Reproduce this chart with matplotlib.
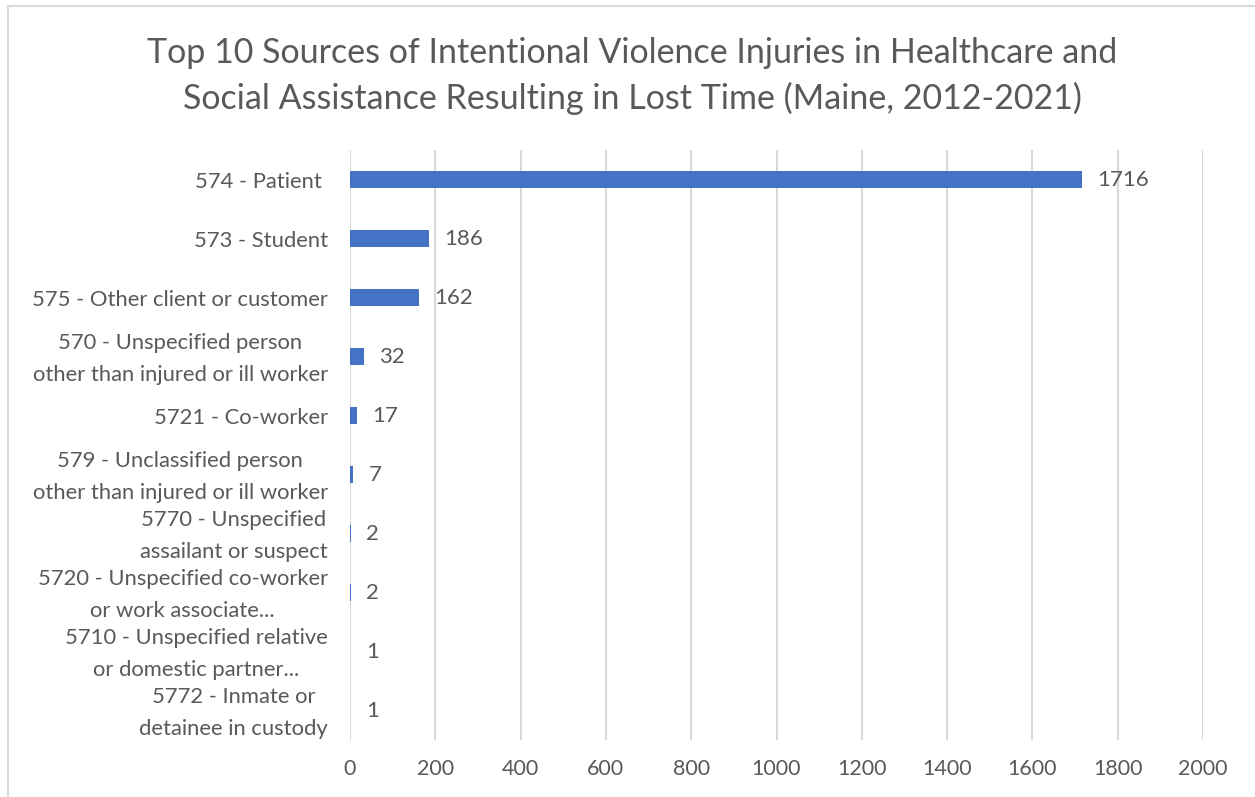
import matplotlib
matplotlib.use('Agg')
import matplotlib.pyplot as plt
from matplotlib.patches import Rectangle
from matplotlib.transforms import ScaledTranslation

plt.rcParams['font.family'] = ['Lato', 'DejaVu Sans']

categories = [
    "574 - Patient ",
    "573 - Student",
    "575 - Other client or customer",
    "570 - Unspecified person\nother than injured or ill worker",
    "5721 - Co-worker",
    "579 - Unclassified person\nother than injured or ill worker",
    "5770 - Unspecified\nassailant or suspect",
    "5720 - Unspecified co-worker\nor work associate...",
    "5710 - Unspecified relative\nor domestic partner...",
    "5772 - Inmate or\ndetainee in custody",
]
values = [1716, 186, 162, 32, 17, 7, 2, 2, 1, 1]
x_ticks = [0, 200, 400, 600, 800, 1000, 1200, 1400, 1600, 1800, 2000]

title = ("Top 10 Sources of Intentional Violence Injuries in Healthcare and\n"
         "Social Assistance Resulting in Lost Time (Maine, 2012-2021)")

text_color = "#595959"
bar_color = "#4472C4"
grid_color = "#D9D9D9"

fig = plt.figure(figsize=(12.55, 7.97), dpi=100)
ax = fig.add_axes([0.2789, 0.0715, 0.6797, 0.740])

# chart border like the Excel chart area
fig.patches.append(Rectangle((8 / 1255, -0.1), 1.2, 1 - 6 / 797 + 0.1,
                             transform=fig.transFigure, fill=False,
                             edgecolor="#D9D9D9", linewidth=1.5))

y = list(range(len(categories)))
ax.barh(y, values, height=0.29, color=bar_color, zorder=3)

for yi, v in zip(y, values):
    ax.annotate(str(v), (v, yi), xytext=(11, 0), textcoords='offset points',
                va='center', ha='left', fontsize=16, color=text_color, zorder=4)

ax.set_xlim(0, 2000)
ax.set_ylim(len(categories) - 0.5, -0.5)
ax.set_xticks(x_ticks)
ax.set_yticks(y)
ax.set_yticklabels(categories, multialignment='center', linespacing=1.78)
ax.tick_params(axis='both', length=0, labelcolor=text_color)
ax.tick_params(axis='y', pad=16, labelsize=15.8)
ax.tick_params(axis='x', pad=14, labelsize=15.5)

# two-line labels sit a little low, nudge them up
for lab in ax.get_yticklabels():
    if "\n" in lab.get_text():
        lab.set_transform(lab.get_transform() +
                          ScaledTranslation(0, 6 / 100, fig.dpi_scale_trans))

ax.grid(axis='x', color=grid_color, linewidth=1.5, zorder=0)
ax.grid(axis='y', visible=False)
for s in ax.spines.values():
    s.set_visible(False)

fig.text(0.504, 0.9047, title, ha='center', va='center', fontsize=24.5,
         color=text_color, linespacing=1.47)

fig.savefig("out.png", dpi=100, facecolor='white')
